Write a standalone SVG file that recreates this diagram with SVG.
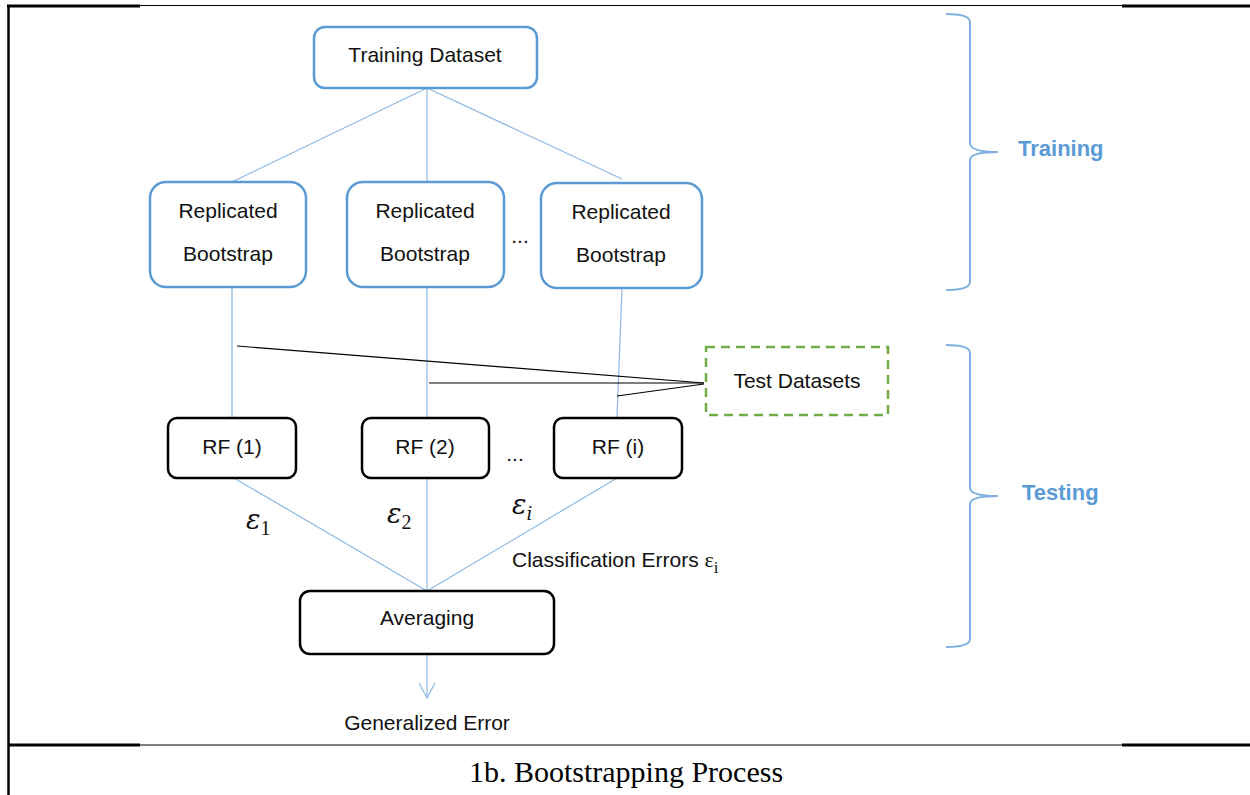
<svg xmlns="http://www.w3.org/2000/svg" width="1250" height="795" viewBox="0 0 1250 795">
  <defs>
    <style>
      .lbl { font-family: "Liberation Sans", Arial, sans-serif; font-size: 21px; fill: #111; text-anchor: middle; }
      .blue-box { fill: #fff; stroke: #5B9BD5; stroke-width: 2.5; }
      .black-box { fill: #fff; stroke: #000; stroke-width: 2.5; }
      .test-box { fill: #fff; stroke: #70AD47; stroke-width: 2.5; stroke-dasharray: 9 6; }
      .conn { stroke: #8DB8E2; stroke-width: 1.2; fill: none; }
      .tconn { stroke: #000; stroke-width: 1.2; fill: none; }
      .brace { stroke: #7FB0E0; stroke-width: 2; fill: none; }
      .phase { font-family: "Liberation Sans", Arial, sans-serif; font-size: 22px; font-weight: bold; fill: #5B9BD5; }
      .math { font-family: "DejaVu Serif", "Liberation Serif", serif; font-style: italic; font-size: 27px; fill: #111; }
      .sub { font-family: "Liberation Serif", "DejaVu Serif", serif; font-style: normal; font-size: 20px; fill: #111; }
      .isub { font-size: 18px; }
      .caption { font-family: "Liberation Serif", "Times New Roman", serif; font-size: 30px; fill: #000; text-anchor: middle; }
      .rule { stroke: #000; fill: none; }
    </style>
    <marker id="openArrow" viewBox="0 0 20 20" refX="18" refY="10" markerWidth="20" markerHeight="20" markerUnits="userSpaceOnUse" orient="auto">
      <path d="M3,2 L18,10 L3,18" fill="none" stroke="#8DB8E2" stroke-width="1.2"/>
    </marker>
  </defs>

  <rect width="1250" height="795" fill="#fff"/>

  <!-- table frame -->
  <g id="frame">
    <line class="rule" x1="7" y1="6" x2="140" y2="6" stroke-width="3"/>
    <line class="rule" x1="140" y1="5.5" x2="1122" y2="5.5" stroke-width="1.2"/>
    <line class="rule" x1="1122" y1="6" x2="1250" y2="6" stroke-width="3"/>
    <line class="rule" x1="8.5" y1="5" x2="8.5" y2="795" stroke-width="2.5"/>
    <line class="rule" x1="8" y1="745" x2="140" y2="745" stroke-width="3"/>
    <line class="rule" x1="140" y1="745" x2="1122" y2="745" stroke-width="1.2"/>
    <line class="rule" x1="1122" y1="745" x2="1250" y2="745" stroke-width="3"/>
  </g>

  <!-- connectors -->
  <g id="connectors">
    <line class="conn" x1="427" y1="88" x2="232" y2="182"/>
    <line class="conn" x1="427" y1="88" x2="427" y2="182"/>
    <line class="conn" x1="427" y1="88" x2="622" y2="179"/>
    <line class="conn" x1="232" y1="287" x2="232" y2="418"/>
    <line class="conn" x1="427" y1="287" x2="427" y2="418"/>
    <line class="conn" x1="622" y1="288" x2="617" y2="418"/>
    <line class="tconn" x1="237" y1="346" x2="704" y2="383"/>
    <line class="tconn" x1="429" y1="383" x2="704" y2="383"/>
    <line class="tconn" x1="617" y1="396" x2="704" y2="384"/>
    <line class="conn" x1="234" y1="478" x2="427" y2="591"/>
    <line class="conn" x1="427" y1="478" x2="427" y2="591"/>
    <line class="conn" x1="617" y1="478" x2="427" y2="591"/>
    <line class="conn" x1="427" y1="654" x2="427" y2="698" marker-end="url(#openArrow)"/>
  </g>

  <!-- nodes -->
  <g id="training-dataset">
    <rect class="blue-box" x="314" y="27" width="223" height="61" rx="11"/>
    <text class="lbl" x="425" y="62">Training Dataset</text>
  </g>
  <g id="bootstrap-1">
    <rect class="blue-box" x="150" y="182" width="156" height="105" rx="16"/>
    <text class="lbl" x="228" y="218">Replicated</text>
    <text class="lbl" x="228" y="261">Bootstrap</text>
  </g>
  <g id="bootstrap-2">
    <rect class="blue-box" x="347" y="182" width="157" height="105" rx="16"/>
    <text class="lbl" x="425" y="218">Replicated</text>
    <text class="lbl" x="425" y="261">Bootstrap</text>
  </g>
  <g id="bootstrap-dots">
    <text class="lbl" x="520" y="243">...</text>
  </g>
  <g id="bootstrap-i">
    <rect class="blue-box" x="541" y="183" width="161" height="105" rx="16"/>
    <text class="lbl" x="621" y="219">Replicated</text>
    <text class="lbl" x="621" y="262">Bootstrap</text>
  </g>
  <g id="test-datasets">
    <rect class="test-box" x="706" y="347" width="182" height="68"/>
    <text class="lbl" x="797" y="388">Test Datasets</text>
  </g>
  <g id="rf-1">
    <rect class="black-box" x="168" y="418" width="128" height="60" rx="9"/>
    <text class="lbl" x="232" y="454">RF (1)</text>
  </g>
  <g id="rf-2">
    <rect class="black-box" x="362" y="418" width="127" height="60" rx="9"/>
    <text class="lbl" x="425" y="454">RF (2)</text>
  </g>
  <g id="rf-dots">
    <text class="lbl" x="515" y="461">...</text>
  </g>
  <g id="rf-i">
    <rect class="black-box" x="554" y="418" width="128" height="60" rx="9"/>
    <text class="lbl" x="618" y="454">RF (i)</text>
  </g>
  <g id="averaging">
    <rect class="black-box" x="300" y="591" width="254" height="63" rx="10"/>
    <text class="lbl" x="427" y="625">Averaging</text>
  </g>
  <g id="generalized-error">
    <text class="lbl" x="427" y="730">Generalized Error</text>
  </g>

  <!-- error labels -->
  <g id="error-labels">
    <text class="math" x="246" y="529">ε<tspan class="sub" dy="6">1</tspan></text>
    <text class="math" x="387" y="523">ε<tspan class="sub" dy="6">2</tspan></text>
    <text class="math" x="512" y="514">ε<tspan class="isub" dy="6">i</tspan></text>
    <text class="lbl" x="512" y="567" style="text-anchor:start">Classification Errors <tspan font-family="Liberation Serif, serif" font-size="22">ε</tspan><tspan font-family="Liberation Serif, serif" font-size="17" dy="6">i</tspan></text>
  </g>

  <!-- phase braces -->
  <g id="training-phase">
    <path class="brace" d="M946,14 Q970,14 970,22 L970,143 Q970,152 998,152 Q970,152 970,160 L970,282 Q970,290 946,290"/>
    <text class="phase" x="1018" y="156">Training</text>
  </g>
  <g id="testing-phase">
    <path class="brace" d="M946,345 Q970,345 970,353 L970,488 Q970,496 998,496 Q970,496 970,504 L970,639 Q970,647 946,647"/>
    <text class="phase" x="1022" y="500">Testing</text>
  </g>

  <!-- caption -->
  <text class="caption" x="626" y="782">1b. Bootstrapping Process</text>
</svg>
